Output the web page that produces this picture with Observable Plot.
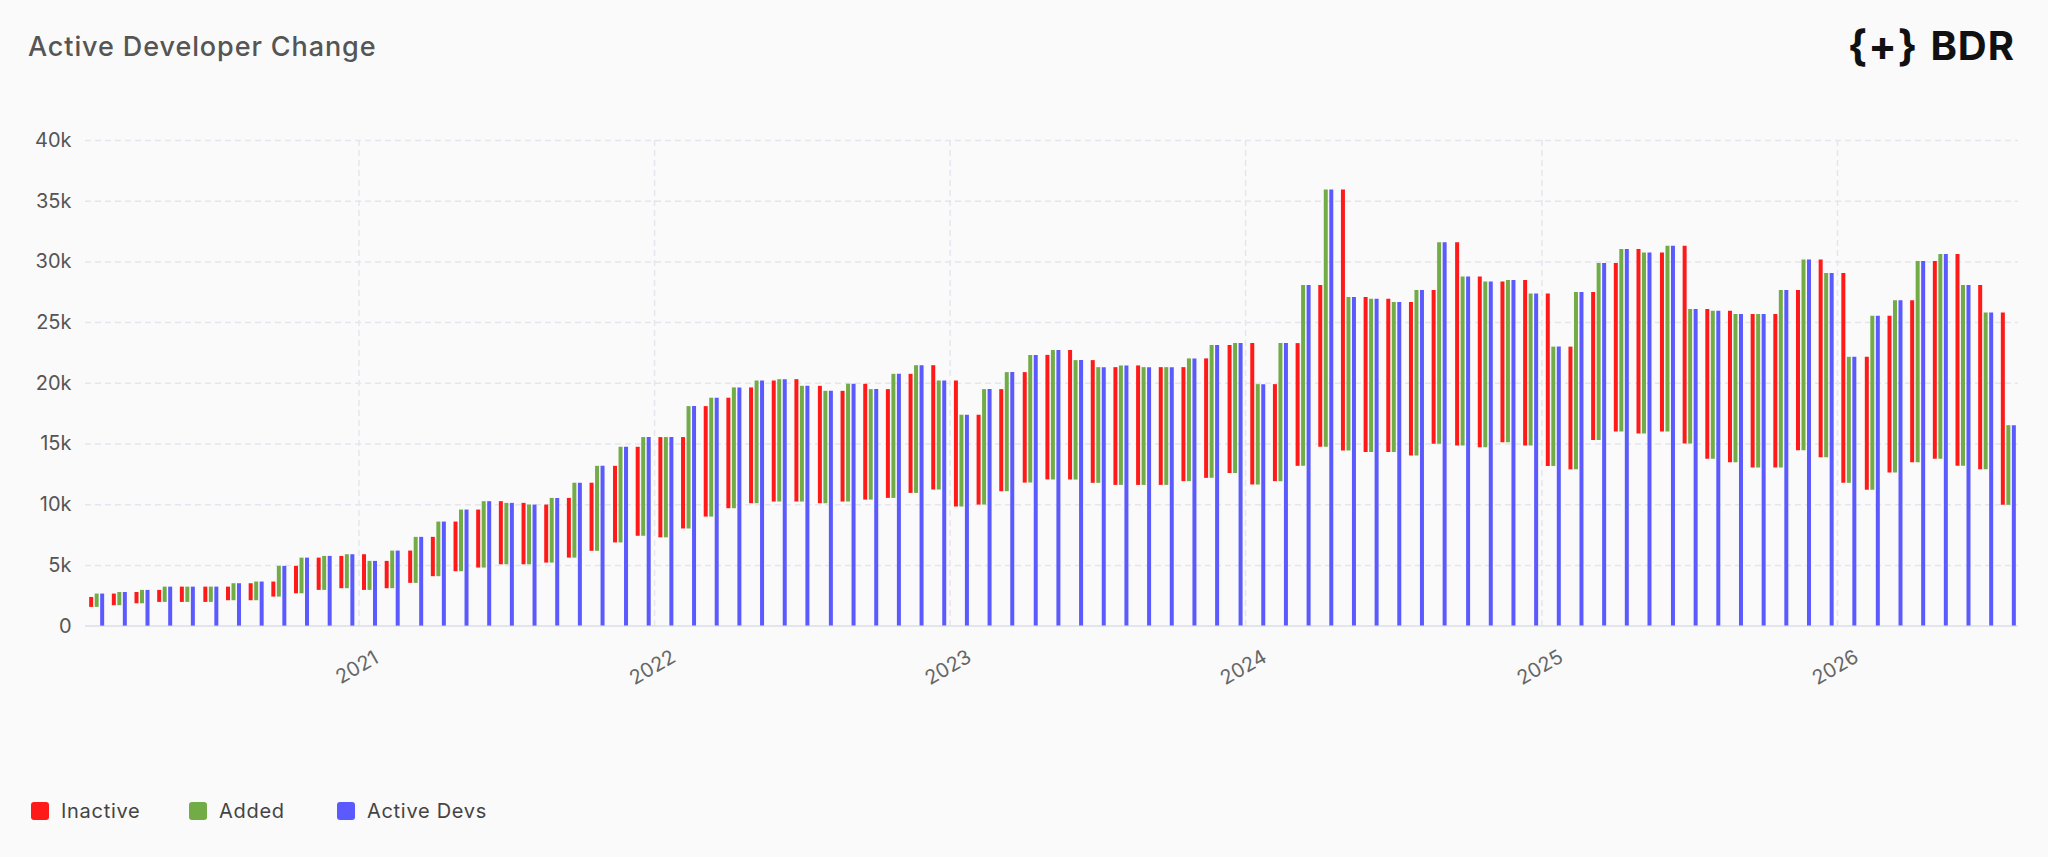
<!DOCTYPE html>
<html>
<head>
<meta charset="utf-8">
<script src="https://cdn.jsdelivr.net/npm/d3@7"></script>
<script src="https://cdn.jsdelivr.net/npm/@observablehq/plot@0.6"></script>
<style>
  html, body { margin: 0; padding: 0; background: #fafafa; }
  #page { position: relative; width: 2048px; height: 857px; background: #fafafa; font-family: Inter, "Noto Sans", sans-serif; overflow: hidden; }
  #chart { position: absolute; left: 0; top: 0; }
  #title { position: absolute; left: 28px; top: 33px; font-size: 27px; line-height: 1; color: #555; font-weight: 500; letter-spacing: 0.9px; }
  #logo { position: absolute; right: 33px; top: 25px; display: flex; align-items: center; gap: 12px; color: #111; font-weight: 700; line-height: 1; }
  #logo .br { font-size: 42px; letter-spacing: 1px; }
  #logo .name { font-size: 40px; letter-spacing: 1px; }
  #legend { position: absolute; left: 31px; top: 801px; display: flex; align-items: center; font-size: 20px; color: #444; line-height: 20px; letter-spacing: 0.7px; }
  #legend .item { display: flex; align-items: center; }
  #legend .sw { width: 18px; height: 18px; border-radius: 3px; margin-right: 12px; }
</style>
</head>
<body>
<div id="page">
  <div id="chart"></div>
  <div id="title">Active Developer Change</div>
  <div id="logo"><span class="br">{+}</span><span class="name">BDR</span></div>
  <div id="legend"></div>
</div>
<script>
// Period dates (4-weekly)
const dates = [
"2020-02-12","2020-03-11","2020-04-08","2020-05-06","2020-06-03","2020-07-02","2020-07-30","2020-08-27","2020-09-24","2020-10-22",
"2020-11-19","2020-12-17","2021-01-14","2021-02-11","2021-03-12","2021-04-09","2021-05-07","2021-06-04","2021-07-02","2021-07-30",
"2021-08-27","2021-09-24","2021-10-22","2021-11-20","2021-12-18","2022-01-15","2022-02-12","2022-03-12","2022-04-09","2022-05-07",
"2022-06-04","2022-07-02","2022-07-31","2022-08-28","2022-09-25","2022-10-23","2022-11-20","2022-12-18","2023-01-15","2023-02-12",
"2023-03-12","2023-04-10","2023-05-08","2023-06-05","2023-07-03","2023-07-31","2023-08-28","2023-09-25","2023-10-23","2023-11-20",
"2023-12-19","2024-01-16","2024-02-13","2024-03-12","2024-04-09","2024-05-07","2024-06-04","2024-07-02","2024-07-30","2024-08-27",
"2024-09-25","2024-10-23","2024-11-20","2024-12-18","2025-01-15","2025-02-12","2025-03-12","2025-04-09","2025-05-07","2025-06-05",
"2025-07-03","2025-07-31","2025-08-28","2025-09-25","2025-10-23","2025-11-20","2025-12-18","2026-01-15","2026-02-13","2026-03-13",
"2026-04-10","2026-05-08","2026-06-05","2026-07-03","2026-07-31"
];

// Active developers at the end of each period
const active = [
2640,2770,2940,3210,3210,3210,3490,3630,4920,5600,
5740,5880,5330,6180,7310,8570,9560,10250,10110,9970,
10520,11770,13160,14730,15530,15530,18080,18770,19620,20190,
20300,19750,19340,19920,19480,20740,21450,20190,17370,19480,
20880,22300,22700,21870,21290,21430,21290,21290,22010,23120,
23270,19890,23270,28050,35930,27060,26920,26650,27640,31580,
28760,28340,28460,27360,22980,27470,29860,31020,30740,31290,
26070,25930,25660,25660,27640,30160,29040,22140,25520,26790,
30030,30600,28050,25800,16510
];

// Developers that became inactive in each period
const inactive = [
820,960,930,990,1260,1260,1120,1400,1240,2260,
2660,2660,2940,2250,2660,3240,4090,4780,5200,5060,
4780,4920,5610,6310,7330,8260,7530,9100,9100,9540,
9970,10080,9670,9120,9540,8960,9810,10240,10380,7400,
8410,9100,10260,10670,10110,9700,9840,9700,9390,9840,
10540,11650,7990,10110,13320,21510,12770,12630,12640,12670,
16740,14060,13230,13620,14210,10110,12190,13870,15200,14750,
16290,12330,12470,12640,12640,13190,16290,17280,10960,12910,
13330,16290,17440,15170,15850
];

// Active developers before the first period
const startActive = 2360;

const yTicks = [0, 5000, 10000, 15000, 20000, 25000, 30000, 35000, 40000];
const yearTicks = ["2021-01-01","2022-01-01","2023-01-01","2024-01-01","2025-01-01","2026-01-01"];
const yearLabels = ["2021","2022","2023","2024","2025","2026"];

const seriesNames = ["Inactive", "Added", "Active Devs"];
const colors = ["#ff1a1a", "#72ac47", "#5a5aff"];

const parse = d3.utcParse("%Y-%m-%d");
const rows = dates.map((d, i) => {
  const prev = i === 0 ? startActive : active[i - 1];
  const bottom = prev - inactive[i];
  return {date: parse(d), prev, bottom, active: active[i]};
});
const years = yearTicks.map((d, i) => ({date: parse(d), label: yearLabels[i]}));

const grid = "#e5e5ee";
const chart = Plot.plot({
  width: 2048,
  height: 700,
  marginTop: 140,
  marginBottom: 74.4,
  marginLeft: 85,
  marginRight: 30,
  style: {background: "transparent", fontFamily: "Inter, 'Noto Sans', sans-serif", overflow: "visible"},
  x: {type: "utc", domain: [parse("2021-01-01"), parse("2026-01-01")], range: [358.5, 1837], axis: null},
  y: {domain: [0, 40000], range: [625.6, 140], axis: null},
  marks: [
    Plot.ruleY(yTicks.filter(d => d > 0), {stroke: grid, strokeWidth: 1.5, strokeDasharray: "6,4"}),
    Plot.ruleX(years, {x: "date", stroke: grid, strokeWidth: 1.5, strokeDasharray: "6,4"}),
    Plot.ruleY([0], {stroke: "#dcdce8", strokeWidth: 1.5}),
    Plot.ruleX(rows, {x: "date", y1: "bottom", y2: "prev", stroke: colors[0], strokeWidth: 4, dx: -5.5}),
    Plot.ruleX(rows, {x: "date", y1: "bottom", y2: "active", stroke: colors[1], strokeWidth: 4}),
    Plot.ruleX(rows, {x: "date", y1: 0, y2: "active", stroke: colors[2], strokeWidth: 4, dx: 5.5}),
    Plot.text(yTicks, {y: d => d, frameAnchor: "left", dx: -14, textAnchor: "end",
      text: d => d === 0 ? "0" : (d / 1000) + "k", fontSize: 20, fill: "#555"}),
    Plot.text(years, {x: "date", y: 0, dy: 41.5, dx: -2, rotate: -30, textAnchor: "middle",
      text: "label", fontSize: 20, fill: "#666"})
  ]
});
document.getElementById("chart").appendChild(chart);

const legend = document.getElementById("legend");
const itemWidths = [158, 148, 200];
seriesNames.forEach((name, i) => {
  const item = document.createElement("div");
  item.className = "item";
  item.style.width = itemWidths[i] + "px";
  const sw = document.createElement("div");
  sw.className = "sw";
  sw.style.background = colors[i];
  const label = document.createElement("span");
  label.textContent = name;
  item.appendChild(sw);
  item.appendChild(label);
  legend.appendChild(item);
});
</script>
</body>
</html>
